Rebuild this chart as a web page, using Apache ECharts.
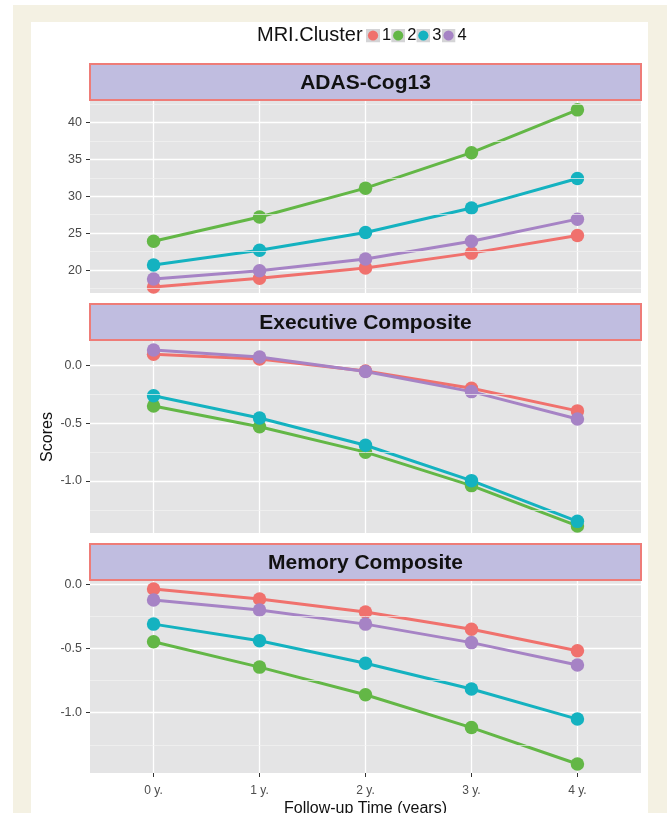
<!DOCTYPE html>
<html>
<head>
<meta charset="utf-8">
<script src="https://cdn.jsdelivr.net/npm/echarts@6/dist/echarts.min.js"></script>
<style>
  html, body { margin: 0; padding: 0; background: #ffffff; }
  #chart { width: 667px; height: 813px; }
</style>
</head>
<body>
<div id="chart"></div>
<script>
// Follow-up time points (x axis) and cluster labels
const years = ['0 y.', '1 y.', '2 y.', '3 y.', '4 y.'];
const clusters = ['1', '2', '3', '4'];
const clusterColors = ['#f0716d', '#63b746', '#14b2c0', '#a683c5'];

// Facet titles
const panelTitles = ['ADAS-Cog13', 'Executive Composite', 'Memory Composite'];

// Mean scores per cluster (rows: cluster 1..4, columns: 0..4 years)
const adasCog13 = [
  [17.7, 18.9, 20.3, 22.3, 24.7],
  [23.9, 27.2, 31.1, 35.9, 41.7],
  [20.7, 22.7, 25.1, 28.4, 32.4],
  [18.8, 19.9, 21.5, 23.9, 26.9]
];
const executiveComposite = [
  [0.100, 0.058, -0.046, -0.196, -0.392],
  [-0.350, -0.530, -0.750, -1.040, -1.390],
  [-0.260, -0.454, -0.690, -0.997, -1.350],
  [0.136, 0.075, -0.050, -0.225, -0.462]
];
const memoryComposite = [
  [-0.037, -0.114, -0.215, -0.350, -0.517],
  [-0.447, -0.645, -0.860, -1.116, -1.400],
  [-0.310, -0.440, -0.615, -0.815, -1.050],
  [-0.122, -0.200, -0.310, -0.454, -0.629]
];

// Axis breaks
const adasTicks = [20, 25, 30, 35, 40];
const adasMinor = [17.5, 22.5, 27.5, 32.5, 37.5, 42.5];
const compositeTicks = [-1.0, -0.5, 0.0];
const compositeMinor = [-1.25, -0.75, -0.25];
const adasRange = [16.9, 42.9];
const executiveRange = [-1.451, 0.214];
const memoryRange = [-1.470, 0.026];

const panels = [
  { title: panelTitles[0], values: adasCog13, ticks: adasTicks, minor: adasMinor, range: adasRange, digits: 0 },
  { title: panelTitles[1], values: executiveComposite, ticks: compositeTicks, minor: compositeMinor, range: executiveRange, digits: 1 },
  { title: panelTitles[2], values: memoryComposite, ticks: compositeTicks, minor: compositeMinor, range: memoryRange, digits: 1 }
];

// Layout
const FONT = '"Liberation Sans", Arial, Helvetica, sans-serif';
const plotLeft = 90, plotRight = 641, stripH = 37, plotH = 192, pitch = 240, firstStrip = 64;
const xIdx = years.map((_, i) => i);

const grids = [], xAxes = [], yAxes = [], series = [], graphics = [];

// page background and card
graphics.push({ type: 'rect', z: -10, silent: true, shape: { x: 13, y: 5, width: 660, height: 820 }, style: { fill: '#f4f1e3' } });
graphics.push({ type: 'rect', z: -9, silent: true, shape: { x: 31, y: 22, width: 617, height: 800 }, style: { fill: '#ffffff' } });

panels.forEach((p, k) => {
  const stripTop = firstStrip + k * pitch;
  const plotTop = stripTop + stripH;
  const isLast = k === panels.length - 1;

  grids.push({
    left: plotLeft, width: plotRight - plotLeft, top: plotTop, height: plotH,
    show: true, backgroundColor: '#e4e4e5', borderWidth: 0,
    containLabel: false, outerBoundsMode: 'none'
  });

  xAxes.push({
    type: 'value', gridIndex: k, min: -0.6, max: 4.6, position: 'bottom',
    axisLine: { show: false, onZero: false },
    axisTick: { show: isLast, customValues: xIdx, length: 4, lineStyle: { color: '#333', width: 1 } },
    axisLabel: { show: isLast, customValues: xIdx, margin: 12, color: '#4d4d4d', fontSize: 12, fontFamily: FONT, formatter: v => years[Math.round(v)] },
    splitLine: { show: true, lineStyle: { color: '#ffffff', width: 1.3 } },
    name: isLast ? 'Follow-up Time (years)' : '',
    nameLocation: 'middle', nameGap: 28,
    nameTextStyle: { fontSize: 16, color: '#111', fontFamily: FONT }
  });

  yAxes.push({
    type: 'value', gridIndex: k, min: p.range[0], max: p.range[1], position: 'left',
    axisLine: { show: false, onZero: false },
    axisTick: { show: true, customValues: p.ticks, length: 4, lineStyle: { color: '#333', width: 1 } },
    axisLabel: { customValues: p.ticks, margin: 8, color: '#4a4a4a', fontSize: 12.5, fontFamily: FONT, formatter: v => v.toFixed(p.digits) },
    splitLine: { show: true, lineStyle: { color: '#ffffff', width: 1.3 } },
    name: k === 1 ? 'Scores' : '',
    nameLocation: 'middle', nameGap: 34, nameRotate: 90, nameMoveOverlap: false,
    nameTextStyle: { fontSize: 16, color: '#111', fontFamily: FONT }
  });

  // minor horizontal grid lines
  series.push({
    type: 'line', xAxisIndex: k, yAxisIndex: k, data: [], z: 1, silent: true,
    markLine: {
      silent: true, symbol: 'none', animation: false, label: { show: false },
      lineStyle: { color: '#f2f2f2', width: 0.7, type: 'solid' },
      data: p.minor.map(v => ({ yAxis: v }))
    }
  });

  clusters.forEach((c, ci) => {
    series.push({
      name: c, type: 'line', xAxisIndex: k, yAxisIndex: k,
      data: p.values[ci].map((v, i) => [xIdx[i], v]),
      symbol: 'circle', symbolSize: 13.5, showSymbol: true,
      itemStyle: { color: clusterColors[ci] },
      lineStyle: { color: clusterColors[ci], width: 3 },
      emphasis: { disabled: true }, animation: false, z: 3
    });
  });

  // facet strip
  graphics.push({
    type: 'rect', silent: true, z: 5,
    shape: { x: plotLeft, y: stripTop, width: plotRight - plotLeft, height: stripH - 1 },
    style: { fill: '#c0bde0', stroke: '#ee7c78', lineWidth: 2 }
  });
  graphics.push({
    type: 'text', silent: true, z: 6,
    x: (plotLeft + plotRight) / 2, y: stripTop + stripH / 2 + 1,
    style: { text: p.title, fill: '#111', font: 'bold 21px ' + FONT, align: 'center', verticalAlign: 'middle' }
  });
});

// legend keys: grey square with a coloured point
const keyIcon = color => 'image://data:image/svg+xml;utf8,' + encodeURIComponent(
  '<svg xmlns="http://www.w3.org/2000/svg" width="26" height="26">' +
  '<rect width="26" height="26" fill="#d4d4d6"/>' +
  '<circle cx="13" cy="13" r="9.5" fill="' + color + '"/></svg>');

const chart = echarts.init(document.getElementById('chart'), null, { renderer: 'canvas' });
chart.setOption({
  backgroundColor: '#ffffff',
  animation: false,
  title: { text: 'MRI.Cluster', left: 257, top: 25, padding: 0, textStyle: { fontSize: 20, fontWeight: 'normal', color: '#111', fontFamily: FONT } },
  legend: {
    left: 366, top: 27, orient: 'horizontal', padding: 0,
    itemWidth: 14, itemHeight: 14, itemGap: 0,
    data: clusters.map((c, ci) => ({ name: c, icon: keyIcon(clusterColors[ci]) })),
    textStyle: { fontSize: 16.5, color: '#111', fontFamily: FONT, padding: [0, 0, 0, -3] }
  },
  grid: grids,
  xAxis: xAxes,
  yAxis: yAxes,
  series: series,
  graphic: graphics
});
</script>
</body>
</html>
